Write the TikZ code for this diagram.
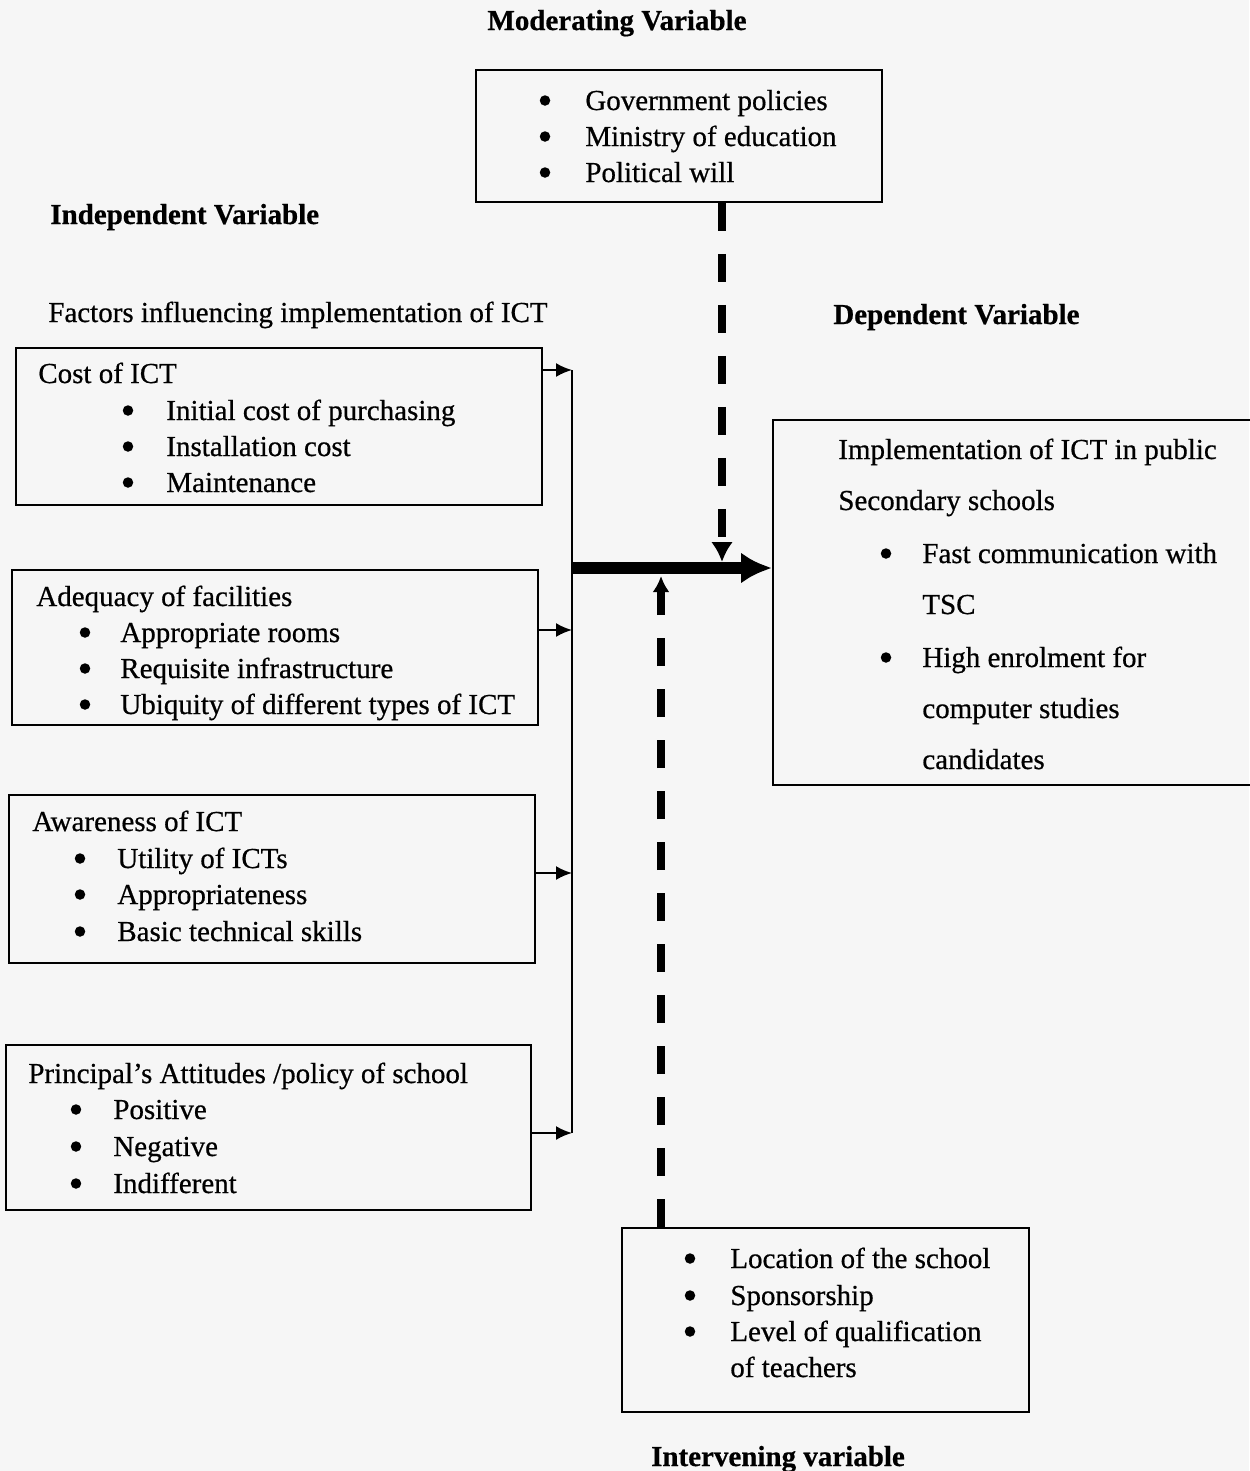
\documentclass[tikz,border=0pt]{standalone}
\usepackage{fontspec}
\setmainfont[FakeBold=0.6]{Liberation Serif}
\usetikzlibrary{arrows.meta}
\definecolor{paper}{rgb}{0.965,0.965,0.965}

\begin{document}
\begin{tikzpicture}[x=0.02cm,y=-0.02cm,
    every node/.style={font=\fontsize{16.5}{20}\selectfont,inner sep=0pt},
    box/.style={draw,line width=1.1pt},
    head/.style={font=\fontsize{16.5}{20}\selectfont\bfseries},
    txt/.style={anchor=base west},
    dot/.style={circle,fill,minimum size=0.21cm,yshift=0.19cm},
    thin arrow/.style={-{Latex[length=0.32cm,width=0.28cm]},line width=1.1pt},
    dash arrow/.style={line width=5pt,dash pattern=on 0.56cm off 0.46cm}]

\fill [paper] (0,0) rectangle (1249,1471);
\useasboundingbox (0,0) rectangle (1249,1471);

% the boxes
\node [box,minimum width=8.12cm,minimum height=2.64cm] (mod) at (679,136) {};
\node [box,minimum width=10.52cm,minimum height=3.14cm] (cost) at (279,426.5) {};
\node [box,minimum width=10.52cm,minimum height=3.10cm] (adeq) at (275,647.5) {};
\node [box,minimum width=10.52cm,minimum height=3.36cm] (aware) at (272,879) {};
\node [box,minimum width=10.50cm,minimum height=3.30cm] (princ) at (268.5,1127.5) {};
\node [box,minimum width=9.94cm,minimum height=7.30cm] (dep) at (1021.5,602.5) {};
\node [box,minimum width=8.14cm,minimum height=3.68cm] (int) at (825.5,1320) {};

% headings
\node [head,anchor=base] (modhead) at (617,30) {Moderating Variable};
\node [head,txt] (indhead) at (50,224) {Independent Variable};
\node [txt] (factors) at (48,322) {Factors influencing implementation of ICT};
\node [head,txt] (dephead) at (833,324) {Dependent Variable};
\node [head,anchor=base] (inthead) at (778,1466) {Intervening variable};

% moderating variable
\foreach \y/\t [count=\i] in {110/Government policies,146/Ministry of education,182/Political will} {
  \node [dot] (modb\i) at (545,\y) {};
  \node [txt] (modt\i) at (585,\y) {\t};
}

% independent variables
\node [txt] (costhead) at (38,383) {Cost of ICT};
\foreach \y/\t [count=\i] in {420/Initial cost of purchasing,456/Installation cost,492/Maintenance} {
  \node [dot] (costb\i) at (128,\y) {};
  \node [txt] (costt\i) at (166,\y) {\t};
}
\node [txt] (adeqhead) at (36,606) {Adequacy of facilities};
\foreach \y/\t [count=\i] in {642/Appropriate rooms,678/Requisite infrastructure,714/Ubiquity of different types of ICT} {
  \node [dot] (adeqb\i) at (85,\y) {};
  \node [txt] (adeqt\i) at (120,\y) {\t};
}
\node [txt] (awarehead) at (32,831) {Awareness of ICT};
\foreach \y/\t [count=\i] in {868/Utility of ICTs,904/Appropriateness,941/Basic technical skills} {
  \node [dot] (awareb\i) at (80,\y) {};
  \node [txt] (awaret\i) at (117,\y) {\t};
}
\node [txt] (princhead) at (28,1083) {Principal’s Attitudes /policy of school};
\foreach \y/\t [count=\i] in {1119/Positive,1156/Negative,1193/Indifferent} {
  \node [dot] (princb\i) at (76,\y) {};
  \node [txt] (princt\i) at (113,\y) {\t};
}

% dependent variable
\node [txt] (dept1) at (838,459) {Implementation of ICT in public};
\node [txt] (dept2) at (838,510) {Secondary schools};
\node [dot] (depb1) at (886,563) {};
\node [txt] (dept3) at (922,563) {Fast communication with};
\node [txt] (dept4) at (922,614) {TSC};
\node [dot] (depb2) at (886,667) {};
\node [txt] (dept5) at (922,667) {High enrolment for};
\node [txt] (dept6) at (922,718) {computer studies};
\node [txt] (dept7) at (922,769) {candidates};

% intervening variable
\foreach \y/\t [count=\i] in {1268/Location of the school,1305/Sponsorship,1341/Level of qualification} {
  \node [dot] (intb\i) at (690,\y) {};
  \node [txt] (intt\i) at (730,\y) {\t};
}
\node [txt] (intt4) at (730,1377) {of teachers};

% connectors
\coordinate (bus1) at (572,370);
\coordinate (bus2) at (572,630);
\coordinate (bus3) at (572,873);
\coordinate (bus4) at (572,1133);
\coordinate (hub) at (572,568);
\coordinate (dn) at (722,562);
\coordinate (up) at (661,576);

\draw [thin arrow] (cost.east |- bus1) -- (bus1);
\draw [thin arrow] (adeq.east |- bus2) -- (bus2);
\draw [thin arrow] (aware.east |- bus3) -- (bus3);
\draw [thin arrow] (princ.east |- bus4) -- (bus4);
\draw [line width=1.1pt] (bus1) -- (bus4);

\draw [-{Latex[length=0.62cm,width=0.62cm]},line width=6.8pt] (hub) -- (hub -| dep.west);

\draw [dash arrow,-{Latex[length=0.4cm,width=0.44cm]}] (dn |- mod.south) -- (dn);
\draw [dash arrow,-{Latex[length=0.32cm,width=0.34cm]}] (up |- int.north) -- (up);

\end{tikzpicture}
\end{document}
